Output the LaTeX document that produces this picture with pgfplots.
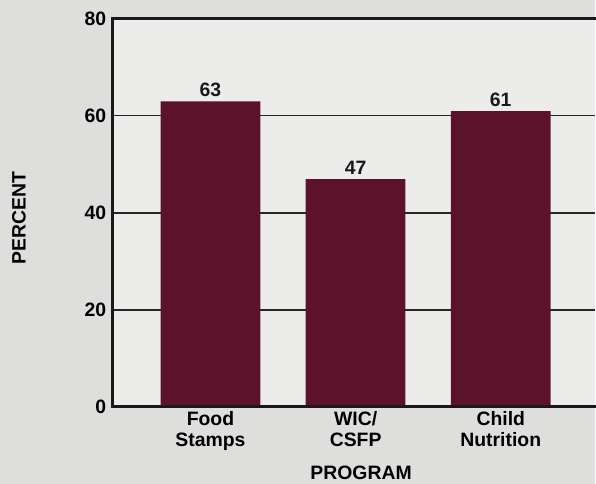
\documentclass[border=0pt]{standalone}
\usepackage{pgfplots}
\pgfplotsset{compat=1.18}
\usepackage{fontspec}
\setmainfont{Liberation Sans}
\definecolor{pagebg}{RGB}{222,222,220}
\definecolor{panel}{RGB}{236,236,234}
\definecolor{barred}{RGB}{92,18,42}
\newcommand{\lbl}{\fontsize{19.5}{21}\selectfont\bfseries}
\begin{document}
\begin{tikzpicture}[x=1bp,y=1bp]
\fill[pagebg] (0,0) rectangle (596,485);
\begin{axis}[
  at={(113bp,77bp)}, anchor=south west,
  scale only axis, width=483bp, height=389bp,
  xmin=-0.6735, xmax=2.646, ymin=0, ymax=80,
  ytick={0,20,40,60,80},
  xtick={0,1,2},
  xticklabels={Food\\Stamps, WIC/\\CSFP, Child\\Nutrition},
  xticklabel style={align=center, font=\lbl, yshift=-1bp},
  yticklabel style={font=\lbl, xshift=-3bp},
  /pgf/number format/assume math mode=true,
  major tick length=0pt,
  axis line style={draw=none},
  axis background/.style={fill=panel},
  ymajorgrids, grid style={black!85, line width=1.1bp},
  clip=false,
]
\addplot[ybar, bar width=100bp, fill=barred, draw=none,
  nodes near coords, every node near coord/.append style={font=\lbl, black!90, yshift=1bp}]
  coordinates {(0,63) (1,47) (2,61)};
\draw[black!90, line width=3bp, line cap=rect] (rel axis cs:1,1) -- (rel axis cs:0,1) -- (rel axis cs:0,0) -- (rel axis cs:1,0);
\end{axis}
\node[rotate=90, font=\lbl] at (19,266) {PERCENT};
\node[font=\lbl] at (362,11) {PROGRAM};
\end{tikzpicture}
\end{document}
